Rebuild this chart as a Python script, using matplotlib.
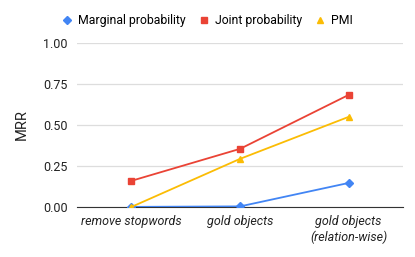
import matplotlib
matplotlib.use("Agg")
import matplotlib.pyplot as plt

plt.rcParams['font.family'] = ['Roboto', 'DejaVu Sans']

categories = ["remove stopwords", "gold objects", "gold objects\n(relation-wise)"]
marginal = [0.0, 0.003, 0.146]
joint = [0.159, 0.354, 0.683]
pmi = [0.0, 0.293, 0.549]

fig = plt.figure(figsize=(4.15, 2.57), dpi=100)
ax = fig.add_axes([0.186, 0.195, 0.785, 0.638])

x = range(len(categories))
ax.plot(x, marginal, color="#4285F4", marker="D", markersize=4.5, lw=1.3, label="Marginal probability", zorder=3)
ax.plot(x, joint, color="#EA4335", marker="s", markersize=4.5, lw=1.3, label="Joint probability", zorder=3)
ax.plot(x, pmi, color="#FBBC04", marker="^", markersize=5, lw=1.3, label="PMI", zorder=3)

ax.set_xlim(-0.5, 2.5)
ax.set_ylim(0, 1.0)
ax.set_yticks([0, 0.25, 0.5, 0.75, 1.0])
ax.set_yticklabels(["0.00", "0.25", "0.50", "0.75", "1.00"])
ax.set_xticks(list(x))
ax.set_xticklabels(categories, style="italic")
ax.tick_params(length=0, labelsize=9, colors="#222222", pad=6)
ax.tick_params(axis="y", pad=7)
ax.grid(axis="y", color="#dddddd", lw=0.9)
ax.set_axisbelow(True)
for s in ["top", "right", "left"]:
    ax.spines[s].set_visible(False)
ax.spines["bottom"].set_color("#333333")
ax.spines["bottom"].set_zorder(2)
ax.set_ylabel("MRR", fontsize=10.5, color="#222222", labelpad=10)

fig.legend(loc="center", bbox_to_anchor=(0.5, 0.92), ncol=3, frameon=False,
           fontsize=8.8, handlelength=0.8, handletextpad=0.5, columnspacing=1.1)
# legend handles: markers only
leg = fig.legends[0]
for h in leg.legend_handles:
    h.set_linestyle("None")

fig.savefig("out.png", dpi=100)
